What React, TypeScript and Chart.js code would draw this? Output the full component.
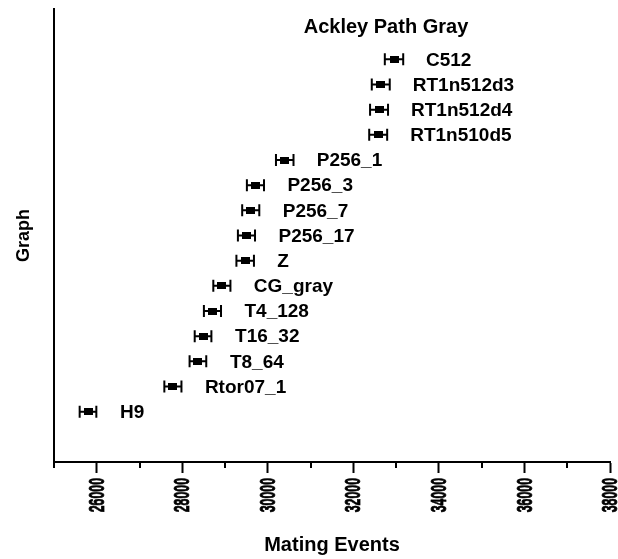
import { useEffect, useRef } from "react";
import { Chart, registerables } from "chart.js";

Chart.register(...registerables);

// Graph variants, listed top to bottom as they appear on the chart
const graphs = [
  "C512",
  "RT1n512d3",
  "RT1n512d4",
  "RT1n510d5",
  "P256_1",
  "P256_3",
  "P256_7",
  "P256_17",
  "Z",
  "CG_gray",
  "T4_128",
  "T16_32",
  "T8_64",
  "Rtor07_1",
  "H9",
];

// Mean number of mating events and its error for each graph
const meanEvents = [
  32950, 32640, 32600, 32580, 30395, 29710, 29600, 29500, 29470, 28925, 28705,
  28485, 28365, 27780, 25795,
];
const errEvents = [
  215, 210, 210, 210, 205, 200, 200, 200, 205, 200, 200, 195, 195, 200, 195,
];

const majorTicks = [26000, 28000, 30000, 32000, 34000, 36000, 38000];
const minorTicks = [25000, 27000, 29000, 31000, 33000, 35000, 37000];

const chartTitle = "Ackley Path Gray";
const xTitle = "Mating Events";
const yTitle = "Graph";

const FONT = '"Liberation Sans", Arial, Helvetica, sans-serif';

const annotate = {
  id: "annotate",
  beforeDatasetsDraw(chart: any) {
    const { ctx } = chart;
    const x = chart.scales.x;
    const y = chart.scales.y;
    ctx.save();
    ctx.strokeStyle = "#000";
    ctx.lineWidth = 2;
    graphs.forEach((_, i) => {
      const py = y.getPixelForValue(graphs.length - i);
      const x0 = x.getPixelForValue(meanEvents[i] - errEvents[i]);
      const x1 = x.getPixelForValue(meanEvents[i] + errEvents[i]);
      ctx.beginPath();
      ctx.moveTo(x0, py);
      ctx.lineTo(x1, py);
      ctx.moveTo(x0, py - 6);
      ctx.lineTo(x0, py + 6);
      ctx.moveTo(x1, py - 6);
      ctx.lineTo(x1, py + 6);
      ctx.stroke();
    });
    ctx.restore();
  },
  afterDraw(chart: any) {
    const { ctx } = chart;
    const x = chart.scales.x;
    const y = chart.scales.y;
    const axisY = x.top;
    ctx.save();
    ctx.fillStyle = "#000";

    // point labels
    ctx.font = `bold 19px ${FONT}`;
    ctx.textAlign = "left";
    ctx.textBaseline = "middle";
    graphs.forEach((g, i) => {
      const py = y.getPixelForValue(graphs.length - i);
      const px = x.getPixelForValue(meanEvents[i]);
      ctx.fillText(g, px + 32, py + 1);
    });

    // heading inside the plot
    ctx.font = `bold 20px ${FONT}`;
    ctx.textAlign = "center";
    ctx.textBaseline = "alphabetic";
    ctx.fillText(chartTitle, 386, 33);

    // minor tick marks
    ctx.strokeStyle = "#000";
    ctx.lineWidth = 2;
    ctx.beginPath();
    minorTicks.forEach((v) => {
      const px = Math.round(x.getPixelForValue(v));
      ctx.moveTo(px, axisY);
      ctx.lineTo(px, axisY + 6);
    });
    ctx.stroke();

    // rotated, condensed tick labels
    ctx.font = `bold 22px ${FONT}`;
    ctx.textAlign = "right";
    ctx.textBaseline = "middle";
    ctx.lineWidth = 0.8;
    majorTicks.forEach((v) => {
      const px = x.getPixelForValue(v);
      ctx.save();
      ctx.translate(px + 1, axisY + 16);
      ctx.rotate(-Math.PI / 2);
      ctx.scale(0.56, 1);
      ctx.fillText(String(v), 0, 0);
      ctx.strokeText(String(v), 0, 0);
      ctx.restore();
    });
    ctx.restore();
  },
};

export default function App() {
  const canvasRef = useRef<HTMLCanvasElement | null>(null);

  useEffect(() => {
    const canvas = canvasRef.current;
    if (!canvas) return;

    const marker = document.createElement("canvas");
    marker.width = 9;
    marker.height = 7;
    const mctx = marker.getContext("2d");
    if (mctx) {
      mctx.fillStyle = "#000";
      mctx.fillRect(0, 0, 9, 7);
    }

    const chart = new Chart(canvas, {
      type: "scatter",
      data: {
        datasets: [
          {
            data: graphs.map((_, i) => ({ x: meanEvents[i], y: graphs.length - i })),
            pointStyle: marker as any,
            pointRadius: 5,
            backgroundColor: "#000",
            borderColor: "#000",
            showLine: false,
          },
        ],
      },
      options: {
        animation: false,
        responsive: true,
        maintainAspectRatio: false,
        layout: { padding: { top: 9, right: 8, left: 0, bottom: 0 } },
        plugins: {
          legend: { display: false },
          tooltip: { enabled: false },
        },
        scales: {
          x: {
            type: "linear",
            min: 25000,
            max: 38000,
            afterBuildTicks: (s: any) => {
              s.ticks = majorTicks.map((v) => ({ value: v }));
            },
            afterFit: (s: any) => {
              s.height = 97;
            },
            ticks: { display: false },
            grid: {
              drawOnChartArea: false,
              drawTicks: true,
              tickLength: 11,
              tickWidth: 2,
              tickColor: "#000",
            },
            border: { display: true, color: "#000", width: 2 },
            title: {
              display: true,
              text: xTitle,
              color: "#000",
              font: { family: FONT, size: 20, weight: "bold" },
              padding: { top: 0, bottom: 2 },
            },
          },
          y: {
            type: "linear",
            min: -1,
            max: 17,
            afterFit: (s: any) => {
              s.width = 54;
            },
            ticks: { display: false },
            grid: { display: false, drawTicks: false },
            border: { display: true, color: "#000", width: 2 },
            title: {
              display: true,
              text: yTitle,
              color: "#000",
              font: { family: FONT, size: 18, weight: "bold" },
              padding: { top: 13, bottom: 0 },
            },
          },
        },
      },
      plugins: [annotate],
    });

    return () => chart.destroy();
  }, []);

  return (
    <div
      style={{
        position: "fixed",
        left: 0,
        top: 0,
        width: 618,
        height: 559,
        background: "#fff",
      }}
    >
      <canvas ref={canvasRef} />
    </div>
  );
}
